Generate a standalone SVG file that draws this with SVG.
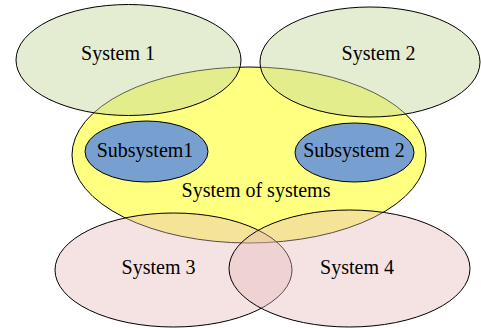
<svg xmlns="http://www.w3.org/2000/svg" width="481" height="328" viewBox="0 0 481 328">
<style>
.e{stroke:#000;stroke-width:1}
.sos{fill:#FFFF80}
.g{fill:#C3D69B;fill-opacity:0.45}
.p{fill:#E6B9B8;fill-opacity:0.4}
.b{fill:#779FCF}
text{font-family:"Liberation Serif","Times New Roman",serif;font-size:20px;fill:#000;text-anchor:middle}
</style>
<rect width="481" height="328" fill="#fff"/>
<g id="sos"><ellipse class="e sos" cx="249" cy="155" rx="177" ry="88"/><text x="256" y="197">System of systems</text></g>
<g id="system1"><ellipse class="e g" cx="128.5" cy="60" rx="112.5" ry="55.5"/><text x="118" y="60">System 1</text></g>
<g id="system2"><ellipse class="e g" cx="370" cy="62" rx="110" ry="55"/><text x="378.5" y="60">System 2</text></g>
<g id="system3"><ellipse class="e p" cx="173.5" cy="270" rx="118.5" ry="57"/><text x="158.5" y="274">System 3</text></g>
<g id="system4"><ellipse class="e p" cx="349.5" cy="268.5" rx="120.5" ry="58.5"/><text x="357" y="274">System 4</text></g>
<g id="subsystem1"><ellipse class="e b" cx="146.5" cy="151.5" rx="61.5" ry="30.5"/><text x="145" y="157">Subsystem1</text></g>
<g id="subsystem2"><ellipse class="e b" cx="354.5" cy="152.5" rx="59.5" ry="29.5"/><text x="354" y="157">Subsystem 2</text></g>
<g id="connectors"></g>
</svg>
